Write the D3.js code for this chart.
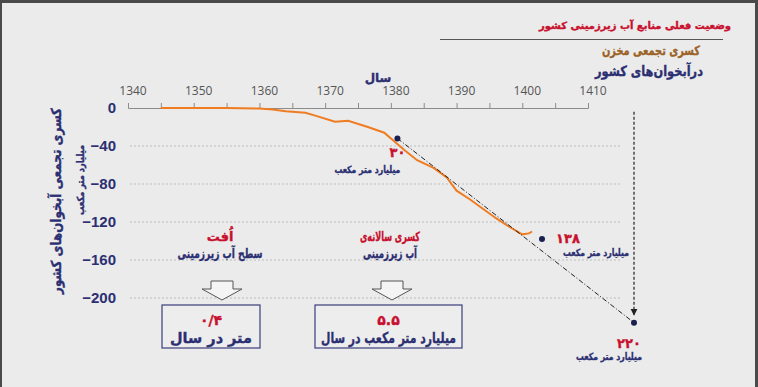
<!DOCTYPE html>
<html>
<head>
<meta charset="utf-8">
<script src="https://cdn.jsdelivr.net/npm/d3@7"></script>
<style>
body { margin: 0; background: #ebebeb; }
svg { display: block; }
.fa { font-family: "DejaVu Sans", sans-serif; font-weight: bold; stroke-width: 0.35px; }
</style>
</head>
<body>
<script>
// chart size
var width = 758, height = 387;

// cumulative deficit curve (year, billion m3)
var curve_years = [1345, 1350, 1355, 1360, 1362, 1364, 1367, 1368.5, 1371.5, 1373.5, 1376.5, 1379, 1380.5, 1382, 1384, 1386.5, 1388.5, 1390, 1392, 1394, 1396, 1398, 1400, 1401, 1401.5];
var curve_values = [0, 0, 0, -0.5, -1.5, -3.5, -5, -8, -14.5, -13.5, -20, -26, -35, -44, -55, -63, -73, -87, -96, -106, -116, -125, -133, -132, -130];

// marked points
var point_years = [1381, 1403, 1417];
var point_values = [-32, -138, -226];
var point_labels = ['۳۰', '۱۳۸', '۲۲۰'];

// ticks
var x_ticks = [1340, 1350, 1360, 1370, 1380, 1390, 1400, 1410];
var y_ticks = [0, -40, -80, -120, -160, -200];

var navy = '#2b2f72', red = '#c8102e';

var svg = d3.select('body').append('svg').attr('width', width).attr('height', height);

// persian text helper, len squeezes DejaVu to the width seen in the picture
function fa_text(parent, x, y, size, color, txt, len) {
	var t = parent.append('text').attr('class', 'fa').attr('x', x).attr('y', y)
		.attr('text-anchor', 'middle').attr('font-size', size).attr('fill', color).attr('stroke', color).text(txt)
	if (len) t.attr('textLength', len).attr('lengthAdjust', 'spacingAndGlyphs')
	return t
}

// frame
svg.append('rect').attr('x', 0).attr('y', 0).attr('width', width).attr('height', height).attr('fill', '#4a4a4a');
svg.append('rect').attr('x', 2).attr('y', 3).attr('width', width - 5).attr('height', height - 3).attr('fill', '#ebebeb');

var xScale = d3.scaleLinear().domain([1340, 1410]).range([128, 588]);
var yScale = d3.scaleLinear().domain([0, -200]).range([108, 298]);

// gridlines
svg.append('g').selectAll('line').data(y_ticks.slice(1)).enter().append('line')
	.attr('x1', 130).attr('x2', 622)
	.attr('y1', d => yScale(d)).attr('y2', d => yScale(d))
	.attr('stroke', '#bdbdbd').attr('stroke-dasharray', '2,2')

// x axis on top, ticks every 5 years
var xAxis = d3.axisTop(xScale).tickValues(d3.range(1340, 1411, 5)).tickSize(5).tickFormat('')
var gx = svg.append('g').attr('transform', 'translate(0,' + yScale(0) + ')').call(xAxis)
gx.select('.domain').attr('stroke', '#8c8c8c')
gx.selectAll('.tick line').attr('stroke', '#8c8c8c')

svg.append('g').selectAll('text').data(x_ticks).enter().append('text')
	.attr('x', d => xScale(d) + 5).attr('y', 95)
	.attr('text-anchor', 'middle').attr('font-family', 'Open Sans').attr('font-size', 12).attr('fill', '#555')
	.text(d => d)

fa_text(svg, 378, 82, 12, navy, 'سال')

// y axis labels
var yAxis = d3.axisLeft(yScale).tickValues(y_ticks).tickSize(0).tickPadding(0)
var gy = svg.append('g').attr('transform', 'translate(116,0)').call(yAxis)
gy.select('.domain').remove()
gy.selectAll('text').attr('font-family', 'Liberation Sans').attr('font-weight', 'bold').attr('font-size', 15).attr('fill', navy)

fa_text(svg, 0, 0, 14, navy, 'کسری تجمعی آبخوان‌های کشور', 186).attr('transform', 'translate(61,201) rotate(-90)')
fa_text(svg, 0, 0, 10, navy, 'میلیارد متر مکعب', 70).attr('transform', 'translate(84,180) rotate(-90)')

// orange curve
var line = d3.line()
	.x((d, i) => xScale(curve_years[i]))
	.y(d => yScale(d))
svg.append('path').datum(curve_values).attr('d', line)
	.attr('fill', 'none').attr('stroke', '#f07c22').attr('stroke-width', 2)

// trend line
svg.append('line')
	.attr('x1', xScale(point_years[0])).attr('y1', yScale(point_values[0]))
	.attr('x2', xScale(point_years[2])).attr('y2', yScale(point_values[2]))
	.attr('stroke', '#222').attr('stroke-width', 1).attr('stroke-dasharray', '5,2,1,2')

// vertical arrow
svg.append('defs').append('marker').attr('id', 'arr').attr('viewBox', '0 0 10 10').attr('refX', 10).attr('refY', 5)
	.attr('markerWidth', 6).attr('markerHeight', 6).attr('orient', 'auto')
	.append('path').attr('d', 'M0,0L10,5L0,10z').attr('fill', '#222')
svg.append('line')
	.attr('x1', xScale(point_years[2])).attr('x2', xScale(point_years[2]))
	.attr('y1', yScale(-4)).attr('y2', yScale(point_values[2]) - 7)
	.attr('stroke', '#222').attr('stroke-width', 1.2).attr('stroke-dasharray', '3,2').attr('marker-end', 'url(#arr)')

svg.append('g').selectAll('circle').data(point_values).enter().append('circle')
	.attr('cx', (d, i) => xScale(point_years[i])).attr('cy', d => yScale(d)).attr('r', 3)
	.attr('fill', '#1b1f4f')

// point labels
var lab_dx = [0, 26, -5], lab_dy = [19, 4, 25], unit_dx = [-30, 54, -25], unit_dy = [35, 17, 37];
point_labels.forEach(function(d, i) {
	var px = xScale(point_years[i]), py = yScale(point_values[i])
	fa_text(svg, px + lab_dx[i], py + lab_dy[i], 13, red, d)
	fa_text(svg, px + unit_dx[i], py + unit_dy[i], 10, navy, 'میلیارد متر مکعب', 66)
})

// title block
fa_text(svg, 635, 29, 10, red, 'وضعیت فعلی منابع آب زیرزمینی کشور')
svg.append('line').attr('x1', 440).attr('x2', 723).attr('y1', 39.5).attr('y2', 39.5).attr('stroke', '#555').attr('stroke-width', 1.2)
fa_text(svg, 651, 55, 13, '#9a6226', 'کسری تجمعی مخزن', 98)
fa_text(svg, 649, 76, 14, navy, 'درآبخوان‌های کشور', 108)

// info boxes
function info_box(cx, head1, len1, head2, len2, x0, x1, value, unit, unit_len) {
	fa_text(svg, cx, 241, 13, red, head1, len1)
	fa_text(svg, cx, 258, 13, navy, head2, len2)
	var ax = cx + 2
	svg.append('path')
		.attr('d', 'M' + (ax - 11) + ',281H' + (ax + 11) + 'V289H' + (ax + 20) + 'L' + ax + ',300L' + (ax - 20) + ',289H' + (ax - 11) + 'Z')
		.attr('fill', '#f4f4f4').attr('stroke', '#555').attr('stroke-width', 1)
	svg.append('rect').attr('x', x0).attr('y', 305).attr('width', x1 - x0).attr('height', 43)
		.attr('fill', '#ededed').attr('stroke', '#3a3d7a').attr('stroke-width', 1.2)
	fa_text(svg, (x0 + x1) / 2, 325, 14, red, value)
	fa_text(svg, (x0 + x1) / 2, 343, 15, navy, unit, unit_len)
}
info_box(220, 'اُفت', 0, 'سطح آب زیرزمینی', 85, 162, 260, '۰/۴', 'متر در سال', 82)
info_box(390, 'کسری سالانه‌ی', 60, 'آب زیرزمینی', 54, 315, 462, '۵.۵', 'میلیارد متر مکعب در سال', 135)
</script>
</body>
</html>
